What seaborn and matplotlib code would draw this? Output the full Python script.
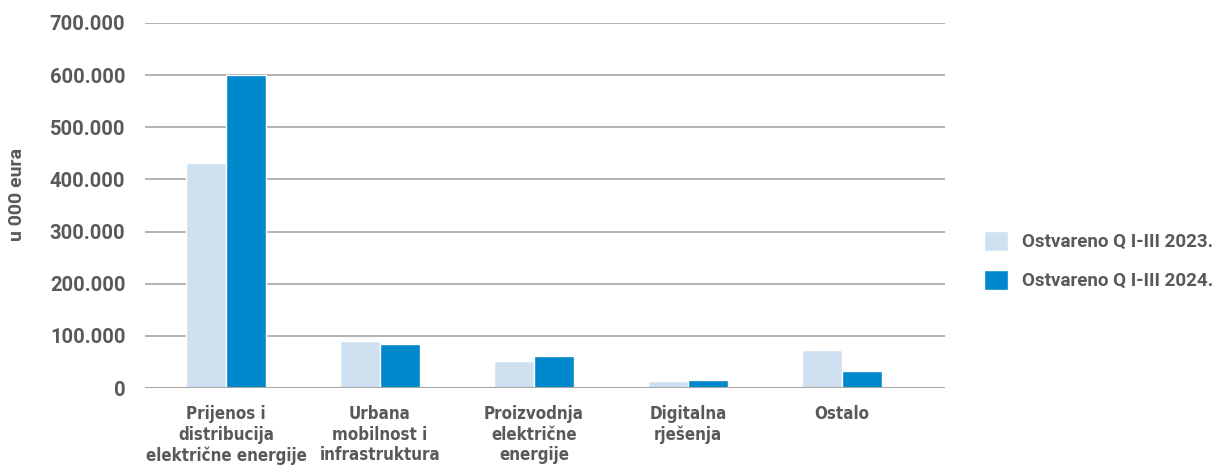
import matplotlib
matplotlib.use("Agg")
import matplotlib.pyplot as plt
import matplotlib.ticker as mticker
import seaborn as sns
import pandas as pd

# data (u 000 eura)
categories = [
    "Prijenos i\ndistribucija\nelektrične energije",
    "Urbana\nmobilnost i\ninfrastruktura",
    "Proizvodnja\nelektrične\nenergije",
    "Digitalna\nrješenja",
    "Ostalo",
]
series_names = ["Ostvareno Q I-III 2023.", "Ostvareno Q I-III 2024."]
values_2023 = [431000, 90000, 52000, 13500, 73000]
values_2024 = [600000, 84500, 61500, 15500, 32500]
y_ticks = [0, 100000, 200000, 300000, 400000, 500000, 600000, 700000]

df = pd.DataFrame({
    "kategorija": categories * 2,
    "serija": [series_names[0]] * len(categories) + [series_names[1]] * len(categories),
    "vrijednost": values_2023 + values_2024,
})

sns.set_style("white")
plt.rcParams["font.family"] = ["Roboto", "DejaVu Sans"]
plt.rcParams["font.weight"] = "bold"
plt.rcParams["axes.labelweight"] = "bold"

text_col = "#595959"
palette = {series_names[0]: "#cfe0f0", series_names[1]: "#0088cc"}

fig = plt.figure(figsize=(12.18, 4.66), dpi=100)
ax = fig.add_axes([0.119, 0.167, 0.657, 0.784])

sns.barplot(data=df, x="kategorija", y="vrijednost", hue="serija",
            palette=palette, width=0.52, gap=0, saturation=1, ax=ax, zorder=3)

ax.set_ylim(0, 700000)
ax.set_xlim(-0.526, 4.67)
ax.set_yticks(y_ticks)
ax.yaxis.set_major_formatter(mticker.FuncFormatter(
    lambda v, p: "0" if v == 0 else f"{int(v):,}".replace(",", ".")))
ax.grid(axis="y", color="#a6a6a6", linewidth=1.2, zorder=0)
for s in ax.spines.values():
    s.set_visible(False)
ax.axhline(0, color="#a6a6a6", linewidth=1.5, zorder=4)

ax.tick_params(axis="y", length=0, pad=14, labelsize=14.5, labelcolor=text_col)
ax.tick_params(axis="x", length=0, pad=12)
ax.set_xticks(range(len(categories)))
ax.set_xticklabels(categories, fontsize=12.2, fontweight="bold", color=text_col,
                   family="DejaVu Sans", fontstretch="condensed", linespacing=1.2)

ax.set_xlabel("")
ax.set_ylabel("u 000 eura", fontsize=14, color=text_col)
ax.yaxis.set_label_coords(-0.149, 0.53)

ax.legend(loc="center left", bbox_to_anchor=(1.028, 0.35), frameon=False,
          handlelength=1.25, handleheight=1.25, labelspacing=1.0,
          handletextpad=0.75, prop={"weight": "bold", "size": 13.5})
for t in ax.get_legend().get_texts():
    t.set_color(text_col)

fig.savefig("out.png", dpi=100)
